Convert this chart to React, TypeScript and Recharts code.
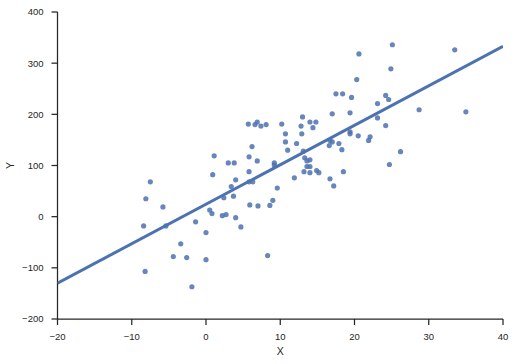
import { ScatterChart, Scatter, XAxis, YAxis } from "recharts";

// scatter points
const xs = [
  -7.5, -8.1, -5.8, -8.4, -5.4, -1.4, 0, -3.4, -4.4, -2.6, 0, -8.2, -1.9,
  5.7, 6.6, 6.9, 7.4, 8.1, 10.2, 13.0, 12.8, 14.0, 14.8, 14.4, 17.0, 10.7, 12.9,
  10.7, 11.0, 12.2, 6.2, 1.1, 5.8, 6.9, 3.0, 3.8, 9.2, 9.2, 13.1, 13.3, 13.6,
  14.0, 13.6, 14.0, 13.2, 14.0, 14.9, 15.2, 16.7, 16.6, 17.0, 17.9, 16.7, 17.2,
  11.9, 9.6, 5.8, 0.9, 4.0, 3.4, 5.8, 6.3, 2.4, 3.7, 9.0, 8.6, 5.9, 7.0, 0.5,
  0.8, 2.2, 2.7, 4.0, 4.7, 8.3,
  25.1, 20.6, 33.5, 24.9, 20.3, 17.5, 18.4, 19.6, 24.2, 24.6, 23.1, 19.4, 28.7,
  35.0, 23.1, 24.2, 19.4, 19.4, 20.5, 22.1, 21.9, 18.3, 26.2, 24.7, 18.5,
];
const ys = [
  68, 35, 19, -18, -18, -10, -31, -53, -78, -80, -84, -107, -137,
  181, 180, 185, 177, 180, 181, 195, 177, 185, 185, 174, 201, 162, 162,
  146, 130, 143, 137, 119, 117, 109, 105, 105, 105, 101, 128, 115, 109,
  111, 98, 98, 88, 86, 90, 86, 149, 139, 146, 143, 74, 60,
  76, 56, 88, 82, 72, 59, 68, 68, 37, 40, 32, 22, 23, 21, 13,
  6, 2, 4, -2, -20, -76,
  336, 318, 326, 289, 268, 240, 240, 233, 237, 229, 221, 203, 209,
  205, 193, 178, 166, 162, 158, 156, 149, 131, 127, 102, 88,
];

// regression line endpoints
const fitX = [-20, 40];
const fitY = [-130, 333];

const xTicks = [-20, -10, 0, 10, 20, 30, 40];
const yTicks = [-200, -100, 0, 100, 200, 300, 400];

const points = xs.map((x, i) => ({ x, y: ys[i] }));
const fit = fitX.map((x, i) => ({ x, y: fitY[i] }));

const BLUE = "#4C72B0";
const INK = "#262626";
const fmt = (v: number) => String(v).replace("-", "\u2212");
const tickStyle = { fontSize: 9.5, fill: INK, fontFamily: "Liberation Sans, Arial, sans-serif" };
const labelStyle = { fontSize: 10.5, fill: INK, fontFamily: "Liberation Sans, Arial, sans-serif" };

export default function App() {
  return (
    <div style={{ position: "fixed", left: 0, top: 0, background: "#fff" }}>
      <ScatterChart width={515} height={364} margin={{ top: 12, right: 12, left: 0, bottom: 0 }}>
        <XAxis
          type="number"
          dataKey="x"
          domain={[-20, 40]}
          ticks={xTicks}
          tickFormatter={fmt}
          height={45}
          tick={tickStyle}
          tickSize={6}
          tickMargin={8}
          stroke={INK}
          strokeWidth={1.25}
          allowDataOverflow
          label={{ value: "X", position: "insideBottom", offset: 9, style: labelStyle }}
        />
        <YAxis
          type="number"
          dataKey="y"
          domain={[-200, 400]}
          ticks={yTicks}
          tickFormatter={fmt}
          width={57.5}
          tick={tickStyle}
          tickSize={6}
          tickMargin={8}
          stroke={INK}
          strokeWidth={1.25}
          allowDataOverflow
          label={{ value: "Y", angle: -90, position: "insideLeft", offset: 10, style: { ...labelStyle, textAnchor: "middle" } }}
        />
        <Scatter data={points} fill={BLUE} isAnimationActive={false} shape={(p: any) => <circle cx={p.cx} cy={p.cy} r={2.6} fill={BLUE} fillOpacity={0.85} />} />
        <Scatter data={fit} line={{ stroke: BLUE, strokeWidth: 3 }} shape={() => null} isAnimationActive={false} />
      </ScatterChart>
    </div>
  );
}
